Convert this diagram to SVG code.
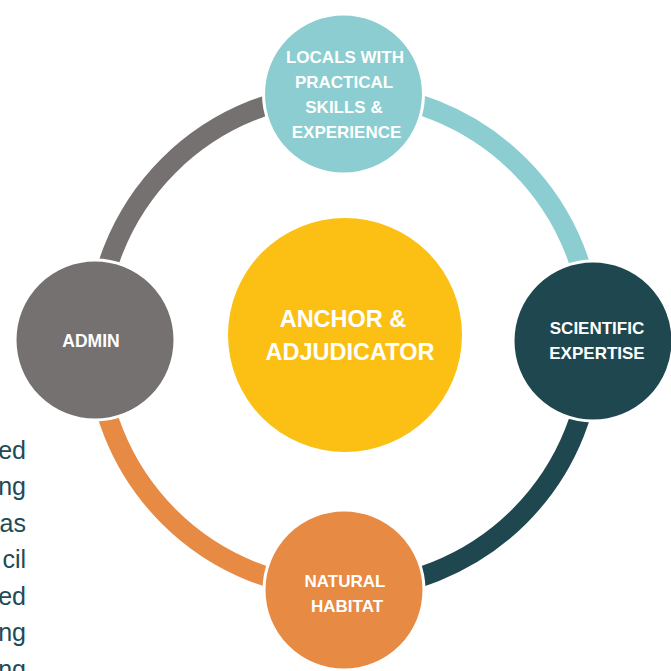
<svg xmlns="http://www.w3.org/2000/svg" width="671" height="671" viewBox="0 0 671 671">
<style>
.arc{fill:none;stroke-width:20}
.node{stroke:#fff;stroke-width:3}
.lbl{font-family:"Liberation Sans",Arial,sans-serif;font-weight:bold;fill:#fff;text-anchor:middle}
.side{font-family:"Liberation Sans",Arial,sans-serif;font-size:25px;fill:#1E4B55;text-anchor:end}
</style>
<rect width="671" height="671" fill="#fff"/>
<g id="side-text">
<text class="side" x="26" y="458.5">ed</text>
<text class="side" x="26" y="495">ng</text>
<text class="side" x="26" y="531.5">as</text>
<text class="side" x="26" y="568">cil</text>
<text class="side" x="26" y="604.5">ed</text>
<text class="side" x="26" y="641">ng</text>
<text class="side" x="26" y="677.5">ng</text>
</g>
<g id="connectors">
<path class="arc" stroke="#767171" d="M 96 341 A 248 248 0 0 1 344 93"/>
<path class="arc" stroke="#8BCDD0" d="M 344 93 A 248 248 0 0 1 592 341"/>
<path class="arc" stroke="#1F474F" d="M 592 341 A 248 248 0 0 1 344 589"/>
<path class="arc" stroke="#E78A43" d="M 344 589 A 248 248 0 0 1 96 341"/>
</g>
<g id="center">
<circle cx="345" cy="335" r="117" fill="#FBC013"/>
<text class="lbl" font-size="23.5" x="343" y="327">ANCHOR &amp;</text>
<text class="lbl" font-size="23.5" x="350" y="360">ADJUDICATOR</text>
</g>
<g id="node-top">
<circle class="node" cx="343.5" cy="94" r="80" fill="#8BCDD0"/>
<text class="lbl" font-size="17" x="345" y="62.5">LOCALS WITH</text>
<text class="lbl" font-size="17" x="344" y="87.5">PRACTICAL</text>
<text class="lbl" font-size="17" x="344" y="112.5">SKILLS &amp;</text>
<text class="lbl" font-size="17" x="346.5" y="138">EXPERIENCE</text>
</g>
<g id="node-right">
<circle class="node" cx="593" cy="341" r="80" fill="#1F474F"/>
<text class="lbl" font-size="17" x="597" y="334">SCIENTIFIC</text>
<text class="lbl" font-size="17" x="597" y="359">EXPERTISE</text>
</g>
<g id="node-bottom">
<circle class="node" cx="344" cy="590" r="80" fill="#E78A43"/>
<text class="lbl" font-size="17" x="345" y="587">NATURAL</text>
<text class="lbl" font-size="17" x="347" y="612">HABITAT</text>
</g>
<g id="node-left">
<circle class="node" cx="95" cy="340" r="80" fill="#767171"/>
<text class="lbl" font-size="17.5" x="91" y="347">ADMIN</text>
</g>
</svg>
